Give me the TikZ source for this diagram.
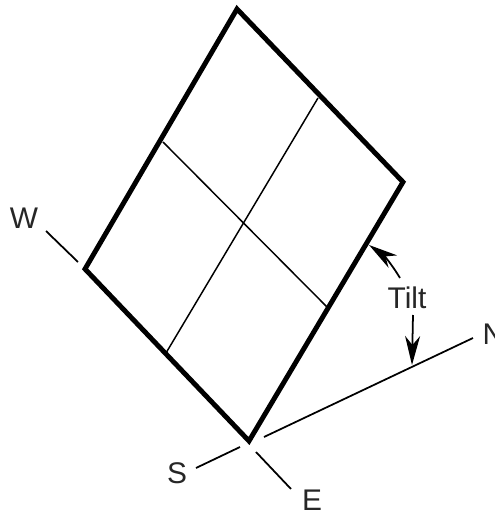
\documentclass[tikz,border=0pt]{standalone}
\usepackage{fontspec}
\setmainfont{Liberation Sans}
\usetikzlibrary{arrows.meta}
\tikzset{
  panel/.style={line width=1.4pt,line join=miter},
  gridline/.style={line width=0.42pt},
  tick/.style={line width=0.5pt},
  tiltarrow/.style={line width=0.5pt,-{Stealth[length=2.9mm,width=1.5mm,inset=0.9mm]}},
  label/.style={inner sep=0pt,font=\fontsize{8.5}{10}\selectfont,text=black!85}
}
\begin{document}
\begin{tikzpicture}
  \useasboundingbox (0,0) rectangle (4.95,5.13);
  % Panel corners
  \coordinate (T) at (2.37,5.04);
  \coordinate (R) at (4.03,3.31);
  \coordinate (B) at (2.49,0.72);
  \coordinate (L) at (0.85,2.44);

  % Ends of the centre lines
  \coordinate (P1) at (1.63,3.71);
  \coordinate (P2) at (3.28,2.05);
  \coordinate (P3) at (3.18,4.15);
  \coordinate (P4) at (1.66,1.60);

  % Panel
  \draw[panel] (T) -- (R) -- (B) -- (L) -- cycle;
  \draw[gridline] (P1) -- (P2);
  \draw[gridline] (P3) -- (P4);

  % Compass labels
  \node[label] (W) at (0.24,2.95) {W};
  \node[label,anchor=west] (N) at (4.82,1.79) {N};
  \node[label] (S) at (1.77,0.40) {S};
  \node[label] (E) at (3.12,0.13) {E};
  \node[label] (Tilt) at (4.07,2.15) {Tilt};

  % Compass ticks
  \coordinate (Wa) at (0.46,2.82);
  \coordinate (Wb) at (0.78,2.51);
  \coordinate (Sa) at (1.96,0.45);
  \coordinate (Sb) at (2.40,0.66);
  \coordinate (Ea) at (2.56,0.61);
  \coordinate (Eb) at (2.91,0.24);
  \coordinate (Na) at (2.64,0.76);
  \coordinate (Nb) at (4.73,1.75);
  \draw[tick] (Wa) -- (Wb);
  \draw[tick] (Sa) -- (Sb);
  \draw[tick] (Ea) -- (Eb);
  \draw[tick] (Na) -- (Nb);

  % Tilt arrows
  \coordinate (Ua) at (4.00,2.35);
  \coordinate (Ub) at (3.69,2.68);
  \coordinate (Da) at (4.13,1.98);
  \coordinate (Db) at (4.12,1.48);
  \draw[tiltarrow] (Ua) to[bend right=12] (Ub);
  \draw[tiltarrow] (Da) -- (Db);
\end{tikzpicture}
\end{document}
